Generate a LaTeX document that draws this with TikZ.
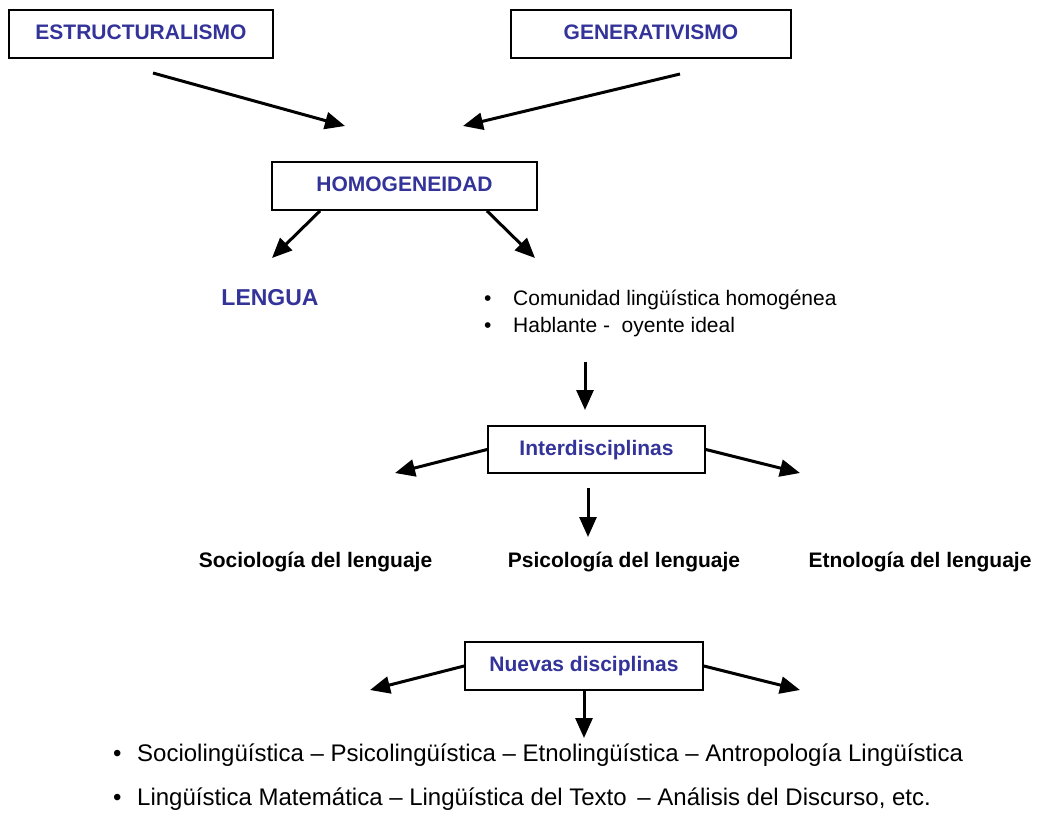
\documentclass[tikz,border=0pt]{standalone}
\usepackage{fontspec}
\setmainfont{Liberation Sans}
\usetikzlibrary{arrows.meta}
\definecolor{titleblue}{RGB}{51,51,153}

\begin{document}
\begin{tikzpicture}[x=1pt,y=-1pt]

      \useasboundingbox (0,0) rectangle (1037,839);

      \begin{scope}[every node/.style={draw,line width=1.8pt,inner sep=0pt,
          text=titleblue,font=\fontsize{21}{25}\selectfont\bfseries,
          text height=15pt,text depth=4pt}]
        \node[minimum width=264pt,minimum height=48pt] (estr)   at (141,34)    {ESTRUCTURALISMO};
        \node[minimum width=280pt,minimum height=48pt] (gen)    at (651,34)    {GENERATIVISMO};
        \node[minimum width=265pt,minimum height=48pt] (homo)   at (404.5,186) {HOMOGENEIDAD};
        \node[minimum width=217pt,minimum height=47pt] (inter)  at (596.5,449.5) {Interdisciplinas};
        \node[minimum width=238pt,minimum height=48pt] (nuevas) at (584,666)   {Nuevas disciplinas};
      \end{scope}

      \node[text=titleblue,font=\fontsize{23}{27}\selectfont\bfseries] (lengua) at (270,298) {LENGUA};

      \begin{scope}[every node/.style={anchor=base west,inner sep=0pt,font=\fontsize{21}{25}\selectfont}]
        \node (b1) at (484,305.5) {\makebox[29pt][l]{\textbullet}Comunidad lingüística homogénea};
        \node (b2) at (484,332.5) {\makebox[29pt][l]{\textbullet}Hablante -\ \ oyente ideal};
      \end{scope}

      \begin{scope}[every node/.style={anchor=base,inner sep=0pt,font=\fontsize{21}{25}\selectfont\bfseries}]
        \node (socio) at (315.5,567) {Sociología del lenguaje};
        \node (psico) at (624,567)   {Psicología del lenguaje};
        \node (etno)  at (920,567)   {Etnología del lenguaje};
      \end{scope}

      \begin{scope}[every node/.style={anchor=base west,inner sep=0pt,font=\fontsize{24}{28}\selectfont}]
        \node (l1) at (113,761.5) {\makebox[24pt][l]{\textbullet}Sociolingüística – Psicolingüística – Etnolingüística – Antropología Lingüística};
        \node (l2) at (113,805.5) {\makebox[24pt][l]{\textbullet}Lingüística Matemática – Lingüística del Texto \,– Análisis del Discurso, etc.};
      \end{scope}

      % free ends of the arrows
      \coordinate (e1) at (153,73);
      \coordinate (e2) at (345,126);
      \coordinate (g1) at (680,74);
      \coordinate (g2) at (463,126);
      \coordinate (h1) at (272,258);
      \coordinate (h2) at (535,258);
      \coordinate (d1) at (585,362);
      \coordinate (d2) at (585,410);
      \coordinate (i1) at (395,473);
      \coordinate (i2) at (800,473);
      \coordinate (i3) at (588,488);
      \coordinate (i4) at (588,537);
      \coordinate (n1) at (370,690);
      \coordinate (n2) at (800,690);
      \coordinate (n3) at (584,738);

      \begin{scope}[every edge/.style={draw,line width=3pt,-{Triangle[length=20pt,width=17pt]}}]
        \path (e1) edge (e2);
        \path (g1) edge (g2);
        \path ([xshift=-84.5pt]homo.south) edge (h1);
        \path ([xshift=82.5pt]homo.south)  edge (h2);
        \path (d1) edge (d2);
        \path (inter.west) edge (i1);
        \path (inter.east) edge (i2);
        \path (i3) edge (i4);
        \path (nuevas.west)  edge (n1);
        \path (nuevas.east)  edge (n2);
        \path (nuevas.south) edge (n3);
      \end{scope}

    \end{tikzpicture}
\end{document}
